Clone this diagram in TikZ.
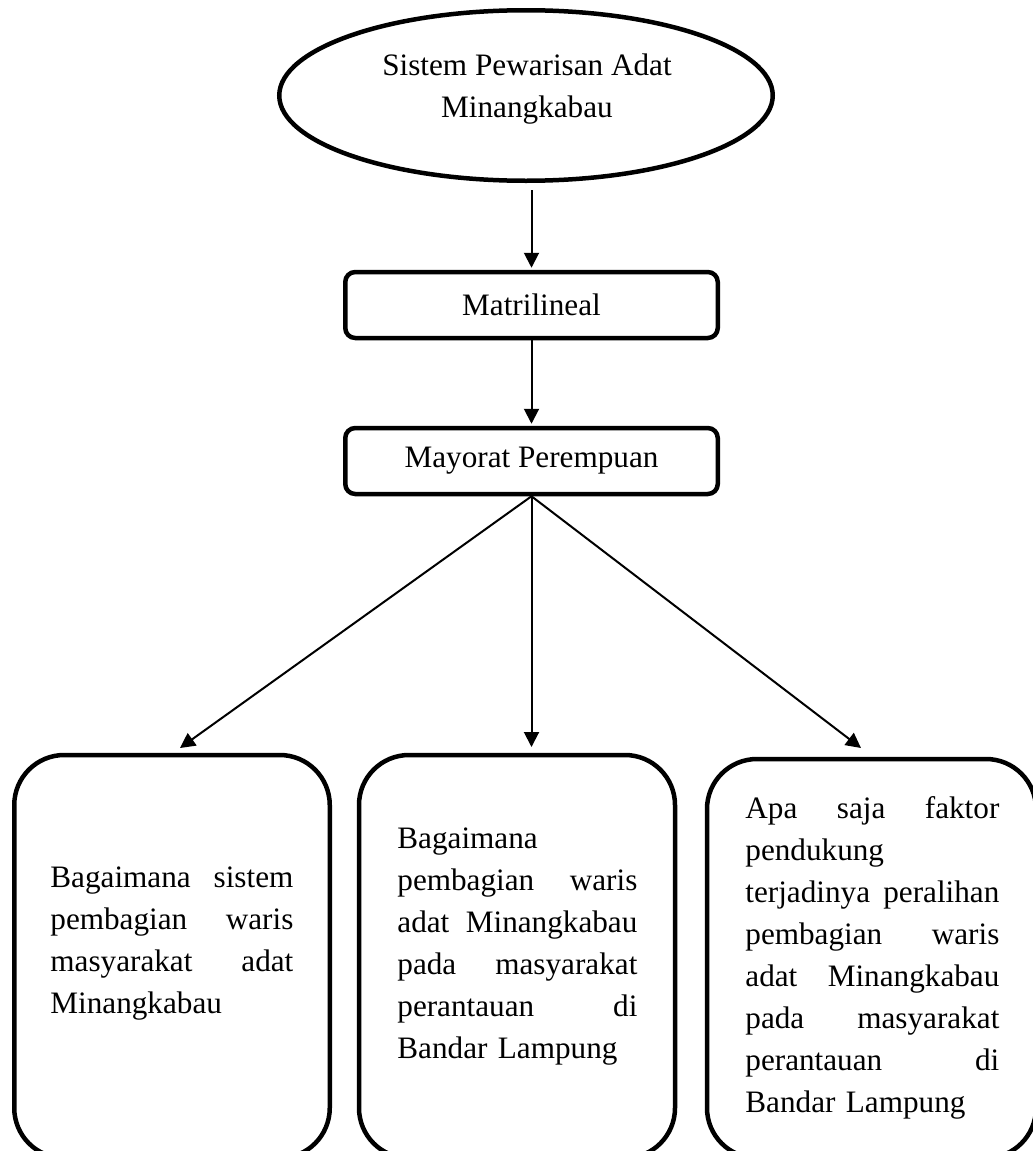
\documentclass[tikz,border=0pt]{standalone}
\usepackage{fontspec}
\setmainfont{Liberation Serif}
\usetikzlibrary{shapes.geometric,arrows.meta}
\newlength{\askwidth}
\newcommand{\spreadline}[1]{\makebox[\askwidth][s]{#1}}

\begin{document}
\begin{tikzpicture}[x=0.5pt,y=0.5pt,yscale=-1,
  txt/.style={font=\fontsize{15.6}{21}\selectfont},
  flowbox/.style={draw,line width=2.25pt,rounded corners=5pt,minimum width=186.25pt,minimum height=33pt,txt},
  askbox/.style={draw,line width=2.25pt,rounded corners=25pt},
  asktext/.style={txt,inner sep=0pt,anchor=north west,text width=#1,
    execute at begin node={\setlength{\askwidth}{#1}\setlength{\parindent}{0pt}}},
  flowarrow/.style={line width=1pt,-{Triangle[length=7.5pt,width=7.5pt]}}]
\useasboundingbox (0,0) rectangle (1033,1151);
\clip (0,0) rectangle (1033,1151);


%Ellipse: top
\node [draw,ellipse,line width=2.25pt,minimum width=246.75pt,minimum height=85.25pt] (ell) at (526,95.5) {};
\node [txt,align=center] (title) at (527,89.5) {Sistem Pewarisan Adat\\Minangkabau};


%Boxes
\node [flowbox] (matri) at (531.5,305) {Matrilineal};
\node [flowbox] (mayor) at (531.5,461) {Mayorat Perempuan};


%Question boxes (cut at the bottom)
\node [askbox,minimum width=157.75pt,minimum height=201.5pt] (ask1) at (172,956.5) {};
\node [askbox,minimum width=158pt,minimum height=201.5pt] (ask2) at (517,956.5) {};
\node [askbox,minimum width=164.5pt,minimum height=199.5pt] (ask3) at (871.5,958.5) {};

%Question texts
\node [asktext=121.5pt] (q1) at (50,866.5) {\spreadline{Bagaimana\hfill sistem}\\ \spreadline{pembagian\hfill waris}\\ \spreadline{masyarakat\hfill adat}\\ Minangkabau};
\node [asktext=120pt] (q2) at (397,827) {Bagaimana\\ \spreadline{pembagian\hfill waris}\\ \spreadline{adat\hfill Minangkabau}\\ \spreadline{pada\hfill masyarakat}\\ \spreadline{perantauan\hfill di}\\ Bandar Lampung};
\node [asktext=127pt] (q3) at (745,796) {\spreadline{Apa\hfill saja\hfill faktor}\\ pendukung\\ \spreadline{terjadinya\hfill peralihan}\\ \spreadline{pembagian\hfill waris}\\ \spreadline{adat\hfill Minangkabau}\\ \spreadline{pada\hfill masyarakat}\\ \spreadline{perantauan\hfill di}\\ Bandar Lampung};


%Arrows
\coordinate (tip1) at (180,748);
\coordinate (tip2) at (531.5,747);
\coordinate (tip3) at (861,748);
\draw [flowarrow,shorten <=3.5pt,shorten >=1pt] (matri.north |- ell.south) -- (matri.north);
\draw [flowarrow,shorten >=1pt] (matri.south) -- (mayor.north);
\draw [flowarrow] (mayor.south) -- (tip1);
\draw [flowarrow] (mayor.south) -- (tip2);
\draw [flowarrow] (mayor.south) -- (tip3);

\end{tikzpicture}
\end{document}
